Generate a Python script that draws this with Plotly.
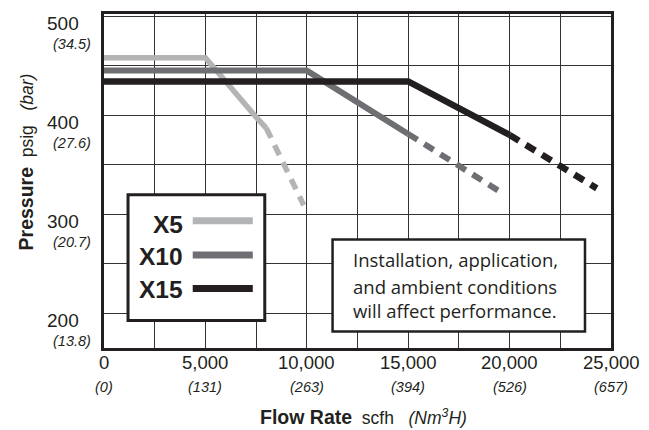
import plotly.graph_objects as go

# ---- data ----
series_names = ["X5", "X10", "X15"]
series_colors = ["#b3b4b6", "#6e6f72", "#231f20"]

x5_solid_flow = [0, 5000, 7500, 8000]
x5_solid_psig = [458, 458, 398, 387]
x5_dash_flow = [8000, 9850]
x5_dash_psig = [387, 309]

x10_solid_flow = [0, 10000, 15000]
x10_solid_psig = [445, 445, 381]
x10_dash_flow = [15000, 19500]
x10_dash_psig = [381, 323]

x15_solid_flow = [0, 15000, 20000]
x15_solid_psig = [434, 434, 380]
x15_dash_flow = [20000, 24300]
x15_dash_psig = [380, 326]

x_ticks = [0, 5000, 10000, 15000, 20000, 25000]
x_tick_labels = ["0", "5,000", "10,000", "15,000", "20,000", "25,000"]
x_tick_sub = ["(0)", "(131)", "(263)", "(394)", "(526)", "(657)"]

y_ticks = [200, 300, 400, 500]
y_tick_labels = ["200", "300", "400", "500"]
y_tick_sub = ["(13.8)", "(20.7)", "(27.6)", "(34.5)"]

note_lines = ["Installation, application,", "and ambient conditions", "will affect performance."]

TXT = "#231f20"
SANS = "Liberation Sans, Arial, sans-serif"
NOTE_FONT = "Open Sans, Lato, sans-serif"

fig = go.Figure()

solid = [(x5_solid_flow, x5_solid_psig), (x10_solid_flow, x10_solid_psig), (x15_solid_flow, x15_solid_psig)]
dash = [(x5_dash_flow, x5_dash_psig), (x10_dash_flow, x10_dash_psig), (x15_dash_flow, x15_dash_psig)]
widths = [5.5, 6, 6.5]
for name, col, w, (sx, sy), (dx, dy) in zip(series_names, series_colors, widths, solid, dash):
    fig.add_trace(go.Scatter(x=sx, y=sy, mode="lines", name=name,
                             line=dict(color=col, width=w), showlegend=False))
    fig.add_trace(go.Scatter(x=dx, y=dy, mode="lines", name=name + " (est.)",
                             line=dict(color=col, width=w, dash="11px,8px"), showlegend=False))

fig.update_layout(
    width=649, height=430,
    margin=dict(l=104, r=38, t=11, b=82),
    paper_bgcolor="white", plot_bgcolor="white",
    font=dict(family=SANS, color=TXT),
    xaxis=dict(range=[0, 25000], tickmode="linear", tick0=0, dtick=2500,
               showticklabels=False, ticks="", showgrid=True,
               gridcolor="#333333", gridwidth=1.3, zeroline=False,
               showline=True, mirror=True, linecolor=TXT, linewidth=2.5),
    yaxis=dict(range=[164.7, 502.2], tickmode="linear", tick0=200, dtick=50,
               showticklabels=False, ticks="", showgrid=True,
               gridcolor="#333333", gridwidth=1.3, zeroline=False,
               showline=True, mirror=True, linecolor=TXT, linewidth=2.5),
)

ann = []
# x tick labels
for v, t, s in zip(x_ticks, x_tick_labels, x_tick_sub):
    ann.append(dict(x=v, y=0, xref="x", yref="paper", text=t, showarrow=False,
                    xanchor="center", yanchor="middle", yshift=-14,
                    font=dict(size=18.5, family=SANS, color=TXT)))
    ann.append(dict(x=v, y=0, xref="x", yref="paper", text="<i>" + s + "</i>", showarrow=False,
                    xanchor="center", yanchor="middle", yshift=-39,
                    font=dict(size=14.5, family=SANS, color=TXT)))
# y tick labels
for v, t, s in zip(y_ticks, y_tick_labels, y_tick_sub):
    ann.append(dict(x=0, y=v, xref="paper", yref="y", text=t, showarrow=False,
                    xanchor="right", yanchor="middle", xshift=-23, yshift=-7,
                    font=dict(size=19, family=SANS, color=TXT)))
    ann.append(dict(x=0, y=v, xref="paper", yref="y", text="<i>" + s + "</i>", showarrow=False,
                    xanchor="right", yanchor="middle", xshift=-11, yshift=-28,
                    font=dict(size=14.5, family=SANS, color=TXT)))
# axis titles
ann.append(dict(x=0.5125, y=0, xref="paper", yref="paper",
                text="<b><span style='font-size:19.5px'>Flow Rate</span></b>&nbsp;&nbsp;scfh&nbsp;&nbsp;&nbsp;<i>(Nm<sup>3</sup>H)</i>",
                showarrow=False, xanchor="center", yanchor="middle", yshift=-69,
                font=dict(size=17.5, family=SANS, color=TXT)))
ann.append(dict(x=-0.1545, y=0.5575, xref="paper", yref="paper", textangle=-90,
                text="<b><span style='font-size:19.5px'>Pressure</span></b>&nbsp;&nbsp;psig&nbsp;&nbsp;&nbsp;<i>(bar)</i>",
                showarrow=False, xanchor="center", yanchor="middle",
                font=dict(size=17.5, family=SANS, color=TXT)))

# legend box
shapes = [dict(type="rect", xref="paper", yref="paper", x0=0.0474, x1=0.3171, y0=0.0823, y1=0.4586,
               line=dict(color=TXT, width=3), fillcolor="white", layer="above")]
leg_y_line = [0.3813, 0.2783, 0.1782]
leg_y_text = [0.3695, 0.2753, 0.1764]
for name, col, yl, yt in zip(series_names, series_colors, leg_y_line, leg_y_text):
    shapes.append(dict(type="line", xref="paper", yref="paper", x0=0.175, x1=0.2935, y0=yl, y1=yl,
                       line=dict(color=col, width=7), layer="above"))
    ann.append(dict(x=0.1593, y=yt, xref="paper", yref="paper", text="<b>" + name + "</b>",
                    showarrow=False, xanchor="right", yanchor="middle",
                    font=dict(size=24.5, family=SANS, color=TXT)))

# note box
shapes.append(dict(type="rect", xref="paper", yref="paper", x0=0.4508, x1=0.9487, y0=0.0496, y1=0.3249,
                   line=dict(color=TXT, width=2.5), fillcolor="white", layer="above"))
note_y = [0.2644, 0.1851, 0.1108]
for line_txt, yy in zip(note_lines, note_y):
    ann.append(dict(x=0.693, y=yy, xref="paper", yref="paper", text=line_txt, showarrow=False,
                    xanchor="center", yanchor="middle",
                    font=dict(size=18.5, family=NOTE_FONT, color=TXT)))

fig.update_layout(annotations=ann, shapes=shapes)
fig.write_html("out.html", config={"displayModeBar": False},
               post_script="document.body.style.margin='0';")
